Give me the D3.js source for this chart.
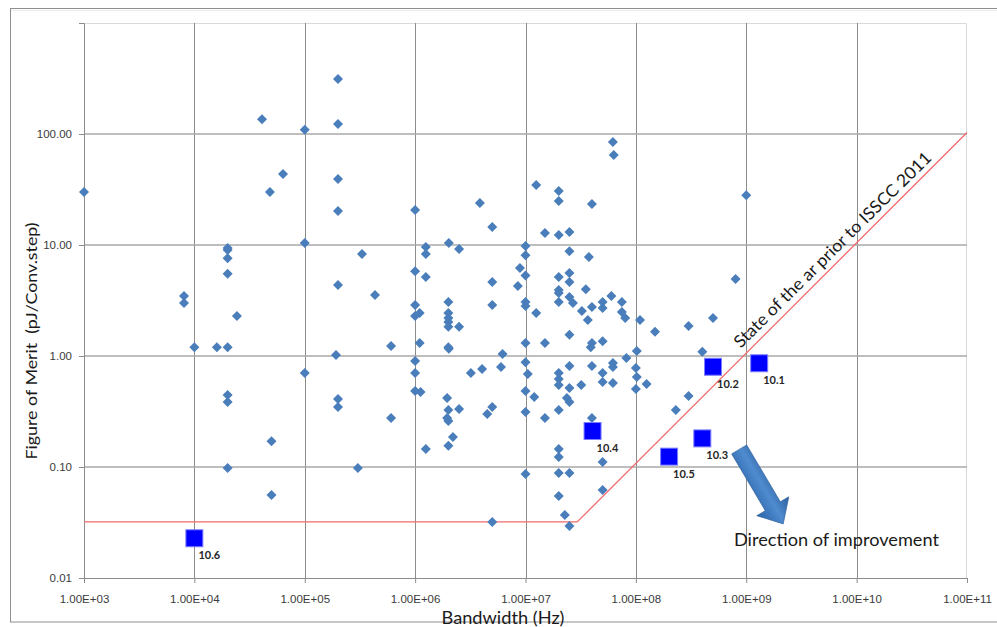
<!DOCTYPE html>
<html>
<head>
<meta charset="utf-8">
<script src="https://cdnjs.cloudflare.com/ajax/libs/d3/7.8.5/d3.min.js"></script>
<style>
  html, body { margin: 0; padding: 0; background: #fff; }
  svg { display: block; }
  .axis text { font-family: 'Liberation Sans', Arial, sans-serif; font-size: 11.5px; fill: #3a3a3a; }
  .title { font-family: Lato, 'Open Sans', sans-serif; fill: #1a1a1a; white-space: pre; }
  .paper-label { font-family: Lato, 'Liberation Sans', sans-serif; font-size: 11px; font-weight: bold; fill: #262626; }
</style>
</head>
<body>
<div id="chart"></div>
<script>
// published ADCs: bandwidth (Hz) vs figure of merit (pJ/conv.step)
const bandwidth = [
  1e3, 4.1e4, 4.84e4, 6.35e4, 1e5, 1e5, 2e5, 2e5, 2e5, 2e5,
  2e5, 3.3e5, 4.33e5, 8.05e3, 8.05e3, 2e4, 2e4, 2e4, 2e4, 2.43e4,
  1e4, 1.6e4, 2e4, 1.92e5, 1e5, 2e4, 2e4, 2e5, 2e5, 5e4,
  2e4, 5e4, 3.03e5, 6.05e5, 6.05e5, 1e6, 1.25e6, 1.25e6, 1e6, 1.25e6,
  2.02e6, 2.5e6, 3.86e6, 5e6, 5e6, 5e6, 8.53e6, 8.9e6, 1e7, 1e7,
  1e7, 1e7, 1e7, 1.25e7, 1.5e7, 2e7, 2e7, 2e7, 2.5e7, 2.5e7,
  3.75e7, 4e7, 6.19e7, 6.3e7, 1e9, 8e8, 1e6, 1e6, 1.1e6, 2e6,
  2e6, 2e6, 2e6, 2e6, 2.5e6, 1.25e7, 2e7, 2.5e7, 2.5e7, 2e7,
  2e7, 2e7, 2.5e7, 2.69e7, 3.52e7, 3.24e7, 4e7, 3.67e7, 5e7, 5e7,
  6e7, 7.47e7, 7.47e7, 8e7, 1.09e8, 1.49e8, 3e8, 5e8, 4e8, 1.1e6,
  2e6, 2.02e6, 1e6, 1e6, 1e6, 1.12e6, 3.2e6, 4.04e6, 6.2e6, 6e6,
  1e7, 1.5e7, 1e7, 1.05e7, 1e7, 1.2e7, 1e7, 1.5e7, 1.95e6, 2e6,
  2.5e6, 1.95e6, 2e6, 5e6, 4.5e6, 2.2e6, 1.25e6, 2e6, 5e6, 1e7,
  2e7, 2e7, 2e7, 2.5e7, 2e7, 2.27e7, 2.5e7, 5e7, 5e7, 2e7,
  2.37e7, 2.5e7, 4e7, 2.5e7, 3.2e7, 2.5e7, 2e7, 2e7, 2e7, 4e7,
  5e7, 5e7, 6.2e7, 6.2e7, 6.2e7, 8.2e7, 4e7, 3.9e7, 5e7, 1.02e8,
  1e8, 1.02e8, 1e8, 1.25e8, 2.5e7, 3e8, 2.3e8
]
const fom = [
  30, 136, 30, 43.6, 109, 10.4, 313, 123, 39.3, 20.2,
  4.36, 8.3, 3.55, 3.47, 3.0, 9.4, 9.0, 7.6, 5.5, 2.29,
  1.2, 1.2, 1.2, 1.02, 0.703, 0.446, 0.385, 0.41, 0.347, 0.171,
  0.098, 0.056, 0.098, 1.23, 0.276, 20.7, 9.6, 8.3, 5.8, 5.15,
  10.4, 9.2, 23.9, 14.5, 4.64, 2.88, 4.27, 6.2, 9.8, 8.1,
  5.3, 3.07, 2.82, 34.7, 12.8, 12.3, 30.6, 24.9, 13.1, 8.8,
  7.8, 23.4, 84.7, 64.7, 28, 4.94, 2.88, 2.29, 2.44, 3.07,
  2.44, 2.2, 2.02, 1.83, 1.83, 2.44, 5.15, 5.6, 4.64, 3.93,
  3.7, 3.07, 3.4, 3.0, 4.0, 2.54, 2.76, 2.11, 3.07, 2.71,
  3.47, 3.07, 2.49, 2.2, 2.11, 1.65, 1.86, 2.2, 1.09, 1.31,
  1.2, 1.16, 0.90, 0.703, 0.484, 0.474, 0.703, 0.764, 1.04, 0.796,
  1.31, 1.31, 0.88, 0.689, 0.484, 0.428, 0.313, 0.276, 0.419, 0.326,
  0.333, 0.276, 0.26, 0.347, 0.30, 0.186, 0.145, 0.155, 0.032, 0.0865,
  0.145, 0.123, 0.0883, 0.0883, 0.0548, 0.037, 0.0294, 0.111, 0.0621, 0.326,
  0.419, 0.385, 0.276, 0.515, 0.548, 0.813, 0.703, 0.62, 0.548, 0.813,
  0.703, 0.583, 0.865, 0.796, 0.571, 0.96, 1.31, 1.2, 1.36, 1.11,
  0.78, 0.647, 0.504, 0.56, 1.55, 0.436, 0.326
]
// ISSCC 2011 session 10 papers
const paperLabels = ['10.1', '10.2', '10.3', '10.4', '10.5', '10.6']
const paperBandwidth = [1.31e9, 5.0e8, 4.0e8, 4.05e7, 2.0e8, 1.0e4]
const paperFom = [0.86, 0.80, 0.181, 0.211, 0.124, 0.0228]
// state of the art before ISSCC 2011
const sotaBandwidth = [1e3, 2.94e7, 1e11]
const sotaFom = [0.032, 0.032, 103]

const xTicks = [1e3, 1e4, 1e5, 1e6, 1e7, 1e8, 1e9, 1e10, 1e11]
const yTicks = [0.01, 0.1, 1, 10, 100]

let w = 997, h = 627
let margin = {top: 23, left: 84, right: 30, bottom: 49}

let x = d3.scaleLog().domain([1e3, 1e11]).range([margin.left, w - margin.right])
let y = d3.scaleLog().domain([0.01, 1000]).range([h - margin.bottom, margin.top])

let svg = d3.select('#chart').append('svg').attr('width', w).attr('height', h)

let defs = svg.append('defs')
let grad = defs.append('linearGradient').attr('id', 'arrowGrad')
  .attr('x1', 0).attr('y1', 0).attr('x2', 0).attr('y2', 1)
grad.append('stop').attr('offset', '0%').attr('stop-color', '#2b5f9f')
grad.append('stop').attr('offset', '45%').attr('stop-color', '#4f8bcf')
grad.append('stop').attr('offset', '100%').attr('stop-color', '#2a64aa')

// outer frame
svg.append('rect').attr('x', 10.5).attr('y', 8.5).attr('width', 1000).attr('height', 613.5)
  .attr('fill', 'none').attr('stroke', '#8f8f8f')
svg.append('line').attr('x1', 11).attr('x2', 1000).attr('y1', 10.5).attr('y2', 10.5)
  .attr('stroke', '#ececec')

let x0 = x.range()[0], x1 = x.range()[1], y0 = y.range()[0], y1 = y.range()[1]

// plot border (top/right, light)
svg.append('path').attr('d', `M${x0},${y1 + 0.5}H${x1 - 0.5}V${y0}`)
  .attr('fill', 'none').attr('stroke', '#d9d9d9')

// gridlines
let grid = svg.append('g').classed('grid', true)
grid.selectAll('.vgrid').data(xTicks.slice(1, -1)).enter().append('line')
  .attr('x1', d => Math.round(x(d)) + 0.5).attr('x2', d => Math.round(x(d)) + 0.5)
  .attr('y1', y1).attr('y2', y0)
  .attr('stroke', '#8c8c8c').attr('stroke-width', 1)
grid.selectAll('.hgrid').data(yTicks.slice(1)).enter().append('line')
  .attr('x1', x0).attr('x2', x1)
  .attr('y1', d => Math.round(y(d))).attr('y2', d => Math.round(y(d)))
  .attr('stroke', '#a8a8a8').attr('stroke-width', 1.5)

// axes
let fmtX = v => {
  let e = Math.round(Math.log10(v))
  return '1.00E+' + (e < 10 ? '0' : '') + e
}
let xAxis = svg.append('g').classed('axis', true)
  .attr('transform', `translate(0, ${y0})`)
  .call(d3.axisBottom(x).tickValues(xTicks).tickFormat(fmtX).tickSizeOuter(0).tickSize(5).tickPadding(11.5))
let yAxis = svg.append('g').classed('axis', true)
  .attr('transform', `translate(${x0}, 0)`)
  .call(d3.axisLeft(y).tickValues(yTicks).tickFormat(d3.format('.2f')).tickSizeOuter(0).tickSize(5).tickPadding(7))
svg.selectAll('.axis .domain').attr('stroke', '#8c8c8c')
svg.selectAll('.axis .tick line').attr('stroke', '#8c8c8c')

// state of the art line
let sota = sotaBandwidth.map((b, i) => [b, sotaFom[i]])
svg.append('path').datum(sota)
  .attr('d', d3.line().x(d => x(d[0])).y(d => y(d[1])))
  .attr('fill', 'none').attr('stroke', '#f26b6b').attr('stroke-width', 1.3)

// published points
let pts = bandwidth.map((b, i) => ({bw: b, fom: fom[i]}))
svg.append('g').selectAll('path').data(pts).enter().append('path')
  .attr('d', 'M0,-5L5,0L0,5L-5,0Z')
  .attr('transform', d => `translate(${x(d.bw)}, ${y(d.fom)})`)
  .attr('fill', '#4a7ebb')

// this year's papers
let papers = paperLabels.map((l, i) => ({label: l, bw: paperBandwidth[i], fom: paperFom[i]}))
let pg = svg.append('g').selectAll('g').data(papers).enter().append('g')
  .attr('transform', d => `translate(${x(d.bw)}, ${y(d.fom)})`)
pg.append('rect').attr('x', -8.5).attr('y', -8.5).attr('width', 17).attr('height', 17)
  .attr('fill', '#0000ff').attr('stroke', '#7f7fff').attr('stroke-width', 1)
pg.append('text').classed('paper-label', true).text(d => d.label)
  .attr('x', 4).attr('y', 21)

// rotated label along the line
svg.append('text').classed('title', true)
  .text('State of the ar prior to ISSCC 2011')
  .attr('font-size', 17)
  .attr('textLength', 270).attr('lengthAdjust', 'spacingAndGlyphs')
  .attr('transform', `translate(${x(8.9e8)}, ${y(1.16)}) rotate(-44.7)`)

// direction of improvement arrow
let arrow = svg.append('g')
  .attr('transform', `translate(${x(8.63e8)}, ${y(0.144)}) rotate(59.4)`)
arrow.append('path')
  .attr('d', 'M0,-8.75L66,-8.75L66,-18.6L86.5,0L66,18.6L66,8.75L0,8.75Z')
  .attr('fill', 'url(#arrowGrad)').attr('stroke', '#2f5f9a').attr('stroke-width', 0.6)

svg.append('text').classed('title', true)
  .text('Direction of improvement')
  .attr('font-size', 18)
  .attr('textLength', 205).attr('lengthAdjust', 'spacingAndGlyphs')
  .attr('x', x(7.74e8)).attr('y', y(0.0195))

// axis titles
svg.append('text').classed('title', true)
  .text('Bandwidth (Hz)')
  .attr('font-size', 17).attr('text-anchor', 'middle')
  .attr('textLength', 123).attr('lengthAdjust', 'spacingAndGlyphs')
  .attr('x', 503).attr('y', 624)
svg.append('text').classed('title', true)
  .text('Figure of Merit  (pJ/Conv.step)')
  .attr('font-size', 16).attr('text-anchor', 'middle')
  .attr('textLength', 237).attr('lengthAdjust', 'spacingAndGlyphs')
  .attr('transform', 'translate(37, 341) rotate(-90)')
</script>
</body>
</html>
